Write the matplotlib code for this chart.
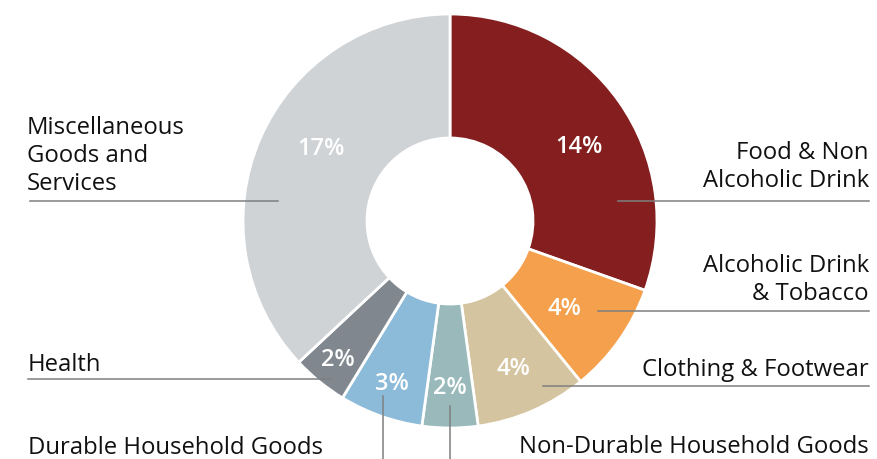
import numpy as np
import matplotlib.pyplot as plt

# Shares of spending (percentage points), clockwise from 12 o'clock
categories = [
    "Food & Non\nAlcoholic Drink",
    "Alcoholic Drink\n& Tobacco",
    "Clothing & Footwear",
    "Non-Durable Household Goods",
    "Durable Household Goods",
    "Health",
    "Miscellaneous\nGoods and\nServices",
]
values = [14, 4, 4, 2, 3, 2, 17]
colors = ["#851f1f", "#f4a04c", "#d5c4a0", "#99b9ba", "#8cbbd9", "#80878e", "#d0d3d6"]

W, H = 877, 460
CX, CY = 450, H - 222  # donut centre in pixels (y up)
R_OUT, R_IN = 207, 83

fig = plt.figure(figsize=(W / 100, H / 100), dpi=100)
ax = fig.add_axes([0, 0, 1, 1])

wedges, _ = ax.pie(
    values, colors=colors, startangle=90, counterclock=False,
    center=(CX, CY), radius=R_OUT,
    wedgeprops=dict(width=R_OUT - R_IN, edgecolor="white", linewidth=2),
)

font = ["Open Sans", "DejaVu Sans"]

# percentage labels inside the ring: (angle offset deg, radius px)
pct_pos = [(-5, 149), (-2, 144), (0, 160), (0, 166), (0, 172), (0, 178), (-6, 148)]
for w, v, (da, r) in zip(wedges, values, pct_pos):
    ang = np.deg2rad((w.theta1 + w.theta2) / 2 + da)
    ax.text(CX + r * np.cos(ang), CY + r * np.sin(ang), f"{v}%",
            color="white", fontsize=17, fontweight="semibold", family=font,
            ha="center", va="center")

line_kw = dict(color="#7f7f7f", linewidth=1.1)

# leader lines (image px): (x0, y0, x1, y1)
leaders = [
    (618, 202, 869, 202),
    (598, 312, 869, 312),
    (543, 387, 869, 387),
    (450, 407, 450, 460),
    (383, 397, 383, 460),
    (331, 380, 28, 380),
    (278, 202, 30, 202),
]
for x0, y0, x1, y1 in leaders:
    ax.plot([x0, x1], [H - y0, H - y1], **line_kw)

# category labels (image px): x, y of bottom, ha
label_pos = [
    (869, 193, "right"),
    (869, 306, "right"),
    (869, 382, "right"),
    (869, 459, "right"),
    (28, 460, "left"),
    (28, 377, "left"),
    (27, 196, "left"),
]
for text, (x, y, ha) in zip(categories, label_pos):
    ax.text(x, H - y, text, fontsize=17.2, family=font, color="#111111",
            ha=ha, va="bottom", linespacing=1.23)

ax.set_xlim(0, W)
ax.set_ylim(0, H)
ax.set_aspect("equal")
ax.axis("off")

fig.savefig("out.png", dpi=100)
